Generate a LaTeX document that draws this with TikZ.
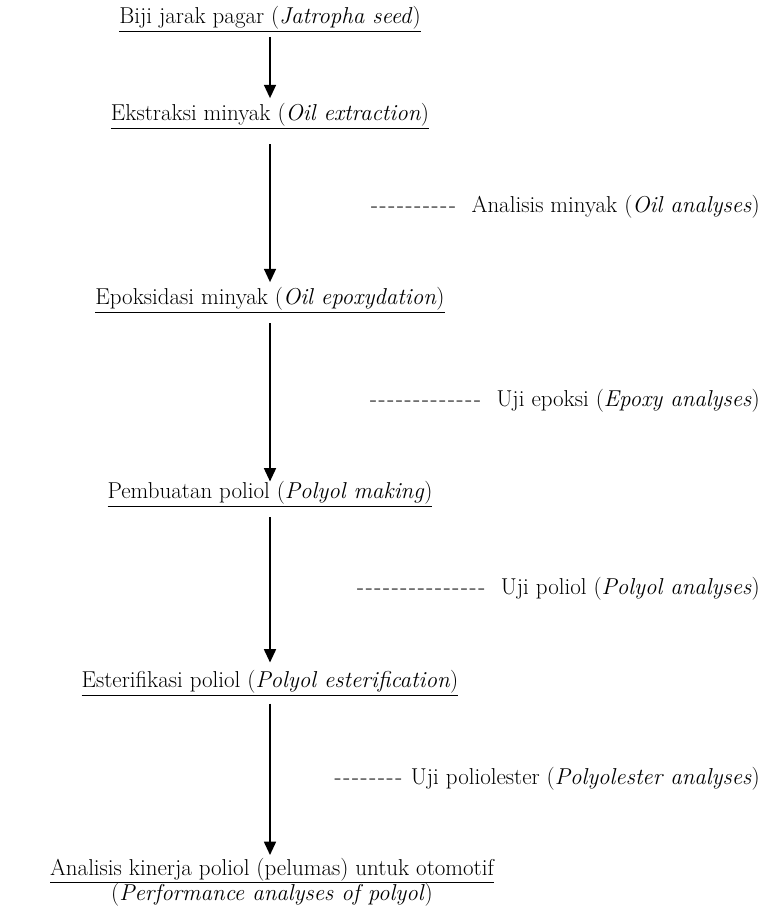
\documentclass[tikz,border=0pt]{standalone}
\usetikzlibrary{arrows.meta}
\newcommand\hy{\mbox{-}\kern1.3pt}
\newcommand\dashes[1]{\foreach \i in {1,...,#1}{\hy}}
\begin{document}
\begin{tikzpicture}[x=0.0264583cm,y=-0.0264583cm,
  txt/.style={inner sep=0pt, font=\fontsize{17.3}{20}\selectfont, text height=11pt, text depth=3.5pt},
  arr/.style={line width=1.3pt, -{Triangle[width=9pt,length=10pt]}}]
\useasboundingbox (0,0) rectangle (770,915);
\node[txt] (n1) at (270,19) {\underline{Biji jarak pagar (\textit{Jatropha seed})}};
\node[txt] (n2) at (270,116) {\underline{Ekstraksi minyak (\textit{Oil extraction})}};
\node[txt] (n3) at (270,300) {\underline{Epoksidasi minyak (\textit{Oil epoxydation})}};
\node[txt] (n4) at (270,494) {\underline{Pembuatan poliol (\textit{Polyol making})}};
\node[txt] (n5) at (270,683) {\underline{Esterifikasi poliol (\textit{Polyol esterification})}};
\node[txt, align=center, text height=, text depth=] (n6) at (272,882) {\underline{Analisis kinerja poliol (pelumas) untuk otomotif}\\[-1pt] (\textit{Performance analyses of  polyol})};
\node[txt, anchor=east] (r1) at (760,208) {\dashes{10}\ \ Analisis minyak (\textit{Oil analyses})};
\node[txt, anchor=east] (r2) at (760,402) {\dashes{13}\ \ Uji epoksi (\textit{Epoxy analyses})};
\node[txt, anchor=east] (r3) at (760,590) {\dashes{15}\ \ Uji poliol (\textit{Polyol analyses})};
\node[txt, anchor=east] (r4) at (760,780) {\dashes{8}\ Uji poliolester (\textit{Polyolester analyses})};
\draw[arr] ([yshift=-6pt]n1.south) -- ([yshift=6pt]n2.north);
\draw[arr] ([yshift=-14pt]n2.south) -- ([yshift=6pt]n3.north);
\draw[arr] ([yshift=-10pt]n3.south) -- ([yshift=2pt]n4.north);
\draw[arr] ([yshift=-10pt]n4.south) -- ([yshift=8pt]n5.north);
\draw[arr] ([yshift=-8pt]n5.south) -- ([yshift=2pt]n5.south |- n6.north);
\end{tikzpicture}
\end{document}
